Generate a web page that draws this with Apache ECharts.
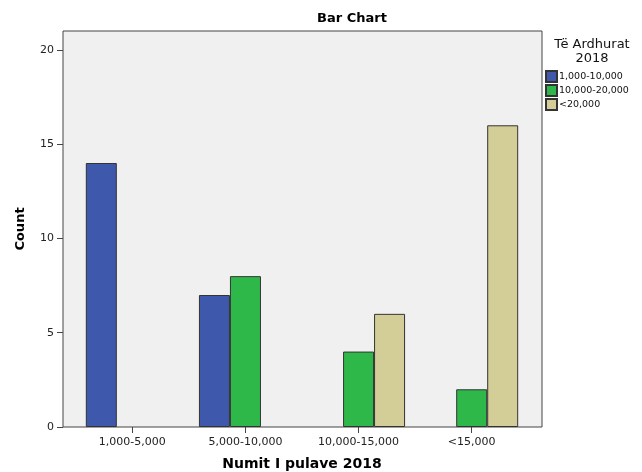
<!DOCTYPE html>
<html>
<head>
<meta charset="utf-8">
<script src="https://cdn.jsdelivr.net/npm/echarts@6/dist/echarts.min.js"></script>
<style>
html,body{margin:0;padding:0;background:#fff;}
#chart{width:642px;height:472px;}
</style>
</head>
<body>
<div id="chart"></div>
<script>
var categories = ['1,000-5,000', '5,000-10,000', '10,000-15,000', '<15,000'];
var seriesNames = ['1,000-10,000', '10,000-20,000', '<20,000'];
var values1 = [14, 7, 0, 0];
var values2 = [0, 8, 4, 2];
var values3 = [0, 0, 6, 16];
var yTicks = [0, 5, 10, 15, 20];
var colors = ['#3e58ac', '#2fb84a', '#d3ce97'];

var FONT = '"DejaVu Sans", Verdana, sans-serif';
function nz(arr){ return arr.map(function(v){ return v === 0 ? '-' : v; }); }
var allValues = [values1, values2, values3];

var chart = echarts.init(document.getElementById('chart'), null, {renderer:'canvas'});
var option = {
  animation: false,
  backgroundColor: '#ffffff',
  color: colors,
  title: [
    {text: 'Bar Chart', left: 352, top: 12, textAlign: 'center', padding: 0,
     textStyle: {fontFamily: FONT, fontSize: 13, fontWeight: 'bold', color: '#000'}},
    {text: 'Të Ardhurat\n2018', left: 592, top: 38, textAlign: 'center', padding: 0,
     textStyle: {fontFamily: FONT, fontSize: 13, fontWeight: 'normal', color: '#111', lineHeight: 14}}
  ],
  legend: {
    orient: 'vertical', left: 545, top: 70, padding: 0,
    itemWidth: 11, itemHeight: 11, itemGap: 1,
    icon: 'rect',
    textStyle: {fontFamily: FONT, fontSize: 9.5, color: '#111', lineHeight: 11, padding: [0,0,0,-3]},
    data: seriesNames
  },
  grid: [
    {left: 63, right: 100, top: 31, bottom: 45, outerBoundsMode: 'none', containLabel: false,
     show: true, backgroundColor: '#f0f0f0', borderColor: '#444', borderWidth: 1},
    {left: 75.75, right: 113.75, top: 31, bottom: 45, outerBoundsMode: 'none', containLabel: false}
  ],
  xAxis: [
    {gridIndex: 0, type: 'value', min: 0, max: 1, show: false},
    {gridIndex: 1, type: 'category', data: categories,
     name: 'Numit I pulave 2018', nameLocation: 'middle', nameGap: 30,
     nameTextStyle: {fontFamily: FONT, fontSize: 14, fontWeight: 'bold', color: '#000'},
     axisLine: {show: false},
     axisTick: {show: true, alignWithLabel: true, length: 6, lineStyle: {color: '#444'}},
     axisLabel: {fontFamily: FONT, fontSize: 11, color: '#222', margin: 10}
    }
  ],
  yAxis: [
    {gridIndex: 0, type: 'value', min: 0, max: 21,
     name: 'Count', nameLocation: 'middle', nameGap: 36, nameRotate: 90,
     nameTextStyle: {fontFamily: FONT, fontSize: 13, fontWeight: 'bold', color: '#000'},
     axisLine: {show: false},
     splitLine: {show: false},
     axisTick: {show: true, length: 6, lineStyle: {color: '#444'}, customValues: yTicks},
     axisLabel: {fontFamily: FONT, fontSize: 11, color: '#222', margin: 9, customValues: yTicks}
    },
    {gridIndex: 1, type: 'value', min: 0, max: 21, show: false}
  ],
  series: seriesNames.map(function(n, i){
    return {
      name: n, type: 'bar', xAxisIndex: 1, yAxisIndex: 1,
      data: nz(allValues[i]),
      barWidth: 31, barGap: '0%',
      itemStyle: {color: colors[i], borderColor: '#333', borderWidth: 1}
    };
  })
};
chart.setOption(option);
</script>
</body>
</html>
